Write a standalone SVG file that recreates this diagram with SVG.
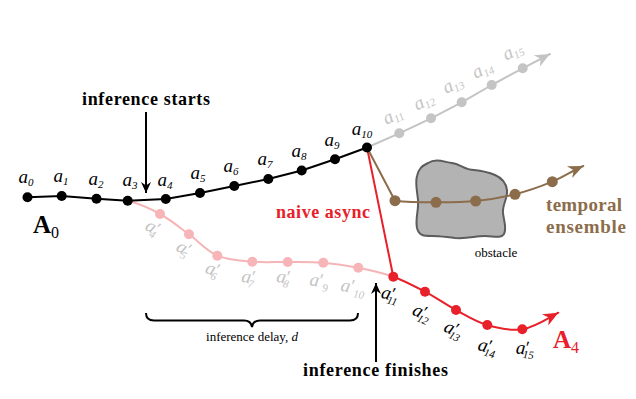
<svg xmlns="http://www.w3.org/2000/svg" width="636" height="399" viewBox="0 0 636 399">
<style>
.m{font-family:"Liberation Serif",serif;font-style:italic;font-size:19px;text-anchor:middle}
.sb{font-size:11px;font-style:italic}
.pr{font-size:18px;font-style:italic}
.b{font-family:"Liberation Serif",serif;font-weight:bold}
.ln{fill:none;stroke-width:2;stroke-linejoin:round;stroke-linecap:round}
</style>
<defs>
<marker id="ag" viewBox="-16 -8 17 16" refX="0" refY="0" markerWidth="17" markerHeight="16" markerUnits="userSpaceOnUse" orient="auto"><path d="M0,0 L-15,-6.5 L-10.5,0 L-15,6.5 Z" fill="#c4c4c4"/></marker>
<marker id="ar" viewBox="-16 -8 17 16" refX="0" refY="0" markerWidth="17" markerHeight="16" markerUnits="userSpaceOnUse" orient="auto"><path d="M0,0 L-15,-6.5 L-10.5,0 L-15,6.5 Z" fill="#e8202a"/></marker>
<marker id="ab" viewBox="-16 -8 17 16" refX="0" refY="0" markerWidth="17" markerHeight="16" markerUnits="userSpaceOnUse" orient="auto"><path d="M0,0 L-15,-6.5 L-10.5,0 L-15,6.5 Z" fill="#8c6d4b"/></marker>
<marker id="ak" viewBox="-12 -6 13 12" refX="0" refY="0" markerWidth="13" markerHeight="12" markerUnits="userSpaceOnUse" orient="auto"><path d="M0,0 L-11,-5 L-7.5,0 L-11,5 Z" fill="#000"/></marker>
</defs>

<g id="obstacle">
<path d="M428,163 C436,158 444,162 452,163 C460,164 465,170 474,170 C484,171 488,172 495,175 C502,178 506,183 507,190 C508,198 502,205 503,213 C504,222 507,228 504,234 C501,239 493,236 485,236 C475,236 468,239 455,238 C445,237 440,236 432,236 C424,236 419,236 417,228 C415,218 419,210 418,200 C417,190 415,183 417,176 C419,168 422,166 428,163 Z" fill="#b3b3b3" stroke="#5c5c5c" stroke-width="2"/>
<text x="496" y="257" font-family="Liberation Serif, serif" font-size="13" text-anchor="middle" fill="#000">obstacle</text>
</g>

<g id="connectors">
<polyline class="ln" stroke="#c4c4c4" points="367,147.5 399.3,133.3 431,118.3 461.7,102.3 491.7,85 522.7,68.3 550,54" marker-end="url(#ag)"/>
<path class="ln" stroke="#f5b5b7" d="M127.7,200.8 C137.7,203.3 149.8,208.4 160,214 C170.2,219.6 179.45,227.35 189,234.3 C198.55,241.25 206.75,251.13 217.3,255.7 C227.850,260.27 240.57,260.65 252.3,261.7 C264.03,262.75 275.87,261.83 287.7,262 C299.53,262.17 311.53,261.75 323.3,262.7 C335.07,263.65 346.63,265.37 358.3,267.7 C369.97,270.03 382.18,272.7 393.3,276.7"/>
<path class="ln" stroke="#e8202a" d="M367,147.5 L393.3,276.7"/>
<path class="ln" stroke="#e8202a" d="M393.3,276.7 C404.4,280.7 414.55,286.15 425,291.7 C435.45,297.25 445.62,304.45 456,310 C466.38,315.55 476.25,321.78 487.3,325 C498.35,328.22 510.47,331.35 522.3,329.3 C534.13,327.25 545,320 558.3,312.7" marker-end="url(#ar)"/>
<path class="ln" stroke="#8c6d4b" d="M367,147.5 L395,200.7 C402,201.5 422.55,202.25 436,202.3 C449.45,202.35 462.53,202.33 475.7,201 C488.87,199.67 502.23,197.52 515,194.3 C527.77,191.08 540.92,186.42 552.3,181.7 C563.68,176.98 572,171 583.3,166" marker-end="url(#ab)"/>
<polyline class="ln" stroke="#000" points="27.5,197.3 61.7,196 96.5,198.8 127.7,200.8 165.8,199 200,193 234.3,186 268.3,179 301.7,170.5 335,159.3 367,147.5"/>
<line x1="146" y1="112" x2="146" y2="193" stroke="#000" stroke-width="2" marker-end="url(#ak)"/>
<line x1="376" y1="362" x2="376" y2="283" stroke="#000" stroke-width="2" marker-end="url(#ak)"/>
<path d="M146,313 Q146,320.5 154,320.5 L244,320.5 Q251,320.5 252,327 Q253,320.5 260,320.5 L350,320.5 Q358,320.5 358,313" fill="none" stroke="#000" stroke-width="2"/>
</g>

<g id="nodes-black" fill="#000">
<circle cx="27.5" cy="197.3" r="5"/><circle cx="61.7" cy="196" r="5"/><circle cx="96.5" cy="198.8" r="5"/><circle cx="127.7" cy="200.8" r="5"/><circle cx="165.8" cy="199" r="5"/><circle cx="200" cy="193" r="5"/><circle cx="234.3" cy="186" r="5"/><circle cx="268.3" cy="179" r="5"/><circle cx="301.7" cy="170.5" r="5"/><circle cx="335" cy="159.3" r="5"/><circle cx="367" cy="147.5" r="5"/>
</g>
<g id="nodes-gray" fill="#c4c4c4">
<circle cx="399.3" cy="133.3" r="5"/><circle cx="431" cy="118.3" r="5"/><circle cx="461.7" cy="102.3" r="5"/><circle cx="491.7" cy="85" r="5"/><circle cx="522.7" cy="68.3" r="5"/>
</g>
<g id="nodes-pink" fill="#f7b5b8">
<circle cx="160" cy="214" r="5"/><circle cx="189" cy="234.3" r="5"/><circle cx="217.3" cy="255.7" r="5"/><circle cx="252.3" cy="261.7" r="5"/><circle cx="287.7" cy="262" r="5"/><circle cx="323.3" cy="262.7" r="5"/><circle cx="358.3" cy="267.7" r="5"/>
</g>
<g id="nodes-red" fill="#e8202a">
<circle cx="393.3" cy="276.7" r="5"/><circle cx="425" cy="291.7" r="5"/><circle cx="456" cy="310" r="5"/><circle cx="487.3" cy="325" r="5"/><circle cx="522.3" cy="329.3" r="5"/>
</g>
<g id="nodes-brown" fill="#8c6d4b">
<circle cx="395" cy="200.7" r="5.5"/><circle cx="436" cy="202.3" r="5.5"/><circle cx="475.7" cy="201" r="5.5"/><circle cx="515" cy="194.3" r="5.5"/><circle cx="552.3" cy="181.7" r="5.5"/>
</g>

<g id="labels-black" fill="#000">
<text class="m" x="26" y="183">a<tspan class="sb" dy="3">0</tspan></text>
<text class="m" x="61" y="182">a<tspan class="sb" dy="3">1</tspan></text>
<text class="m" x="96" y="185">a<tspan class="sb" dy="3">2</tspan></text>
<text class="m" x="130" y="186">a<tspan class="sb" dy="3">3</tspan></text>
<text class="m" x="165" y="186">a<tspan class="sb" dy="3">4</tspan></text>
<text class="m" x="198" y="179">a<tspan class="sb" dy="3">5</tspan></text>
<text class="m" x="231" y="172">a<tspan class="sb" dy="3">6</tspan></text>
<text class="m" x="265" y="165">a<tspan class="sb" dy="3">7</tspan></text>
<text class="m" x="299" y="157">a<tspan class="sb" dy="3">8</tspan></text>
<text class="m" x="332" y="146">a<tspan class="sb" dy="3">9</tspan></text>
<text class="m" x="362" y="135">a<tspan class="sb" dy="3">10</tspan></text>
</g>
<g id="labels-gray" fill="#c4c4c4">
<text class="m" transform="translate(393,116) rotate(-27)" y="5">a<tspan class="sb" dy="3">11</tspan></text>
<text class="m" transform="translate(424,101.7) rotate(-27)" y="5">a<tspan class="sb" dy="3">12</tspan></text>
<text class="m" transform="translate(453,85) rotate(-27)" y="5">a<tspan class="sb" dy="3">13</tspan></text>
<text class="m" transform="translate(482.7,70) rotate(-27)" y="5">a<tspan class="sb" dy="3">14</tspan></text>
<text class="m" transform="translate(513,51.7) rotate(-27)" y="5">a<tspan class="sb" dy="3">15</tspan></text>
</g>
<g id="labels-pink" fill="#c4c4c4">
<text class="m" transform="translate(152,228) rotate(30)" y="5">a<tspan class="pr" dx="-1" dy="-1">′</tspan><tspan class="sb" dx="-5" dy="5">4</tspan></text>
<text class="m" transform="translate(183,249) rotate(30)" y="5">a<tspan class="pr" dx="-1" dy="-1">′</tspan><tspan class="sb" dx="-5" dy="5">5</tspan></text>
<text class="m" transform="translate(212,270) rotate(20)" y="5">a<tspan class="pr" dx="-1" dy="-1">′</tspan><tspan class="sb" dx="-5" dy="5">6</tspan></text>
<text class="m" transform="translate(248,278) rotate(10)" y="5">a<tspan class="pr" dx="-1" dy="-1">′</tspan><tspan class="sb" dx="-5" dy="5">7</tspan></text>
<text class="m" transform="translate(283,278) rotate(10)" y="5">a<tspan class="pr" dx="-1" dy="-1">′</tspan><tspan class="sb" dx="-5" dy="5">8</tspan></text>
<text class="m" transform="translate(319,281.7) rotate(8)" y="5">a<tspan class="pr" dx="-1" dy="-1">′</tspan><tspan class="sb" dx="1" dy="5">9</tspan></text>
<text class="m" transform="translate(353,288) rotate(10)" y="5">a<tspan class="pr" dx="-1" dy="-1">′</tspan><tspan class="sb" dx="1" dy="5">10</tspan></text>
</g>
<g id="labels-red" fill="#000">
<text class="m" transform="translate(390,295) rotate(15)" y="5">a<tspan class="pr" dx="-1" dy="-1">′</tspan><tspan class="sb" dx="-5" dy="5">11</tspan></text>
<text class="m" transform="translate(421.7,313.3) rotate(25)" y="5">a<tspan class="pr" dx="-1" dy="-1">′</tspan><tspan class="sb" dx="-5" dy="5">12</tspan></text>
<text class="m" transform="translate(453.3,330) rotate(25)" y="5">a<tspan class="pr" dx="-1" dy="-1">′</tspan><tspan class="sb" dx="-5" dy="5">13</tspan></text>
<text class="m" transform="translate(487.3,347.3) rotate(15)" y="5">a<tspan class="pr" dx="-1" dy="-1">′</tspan><tspan class="sb" dx="-5" dy="5">14</tspan></text>
<text class="m" transform="translate(525,349.3) rotate(5)" y="5">a<tspan class="pr" dx="-1" dy="-1">′</tspan><tspan class="sb" dx="-5" dy="5">15</tspan></text>
</g>

<g id="titles">
<text class="b" x="33" y="233" font-size="25" fill="#000">A<tspan font-size="16" font-weight="normal" dy="5">0</tspan></text>
<text class="b" x="553" y="348" font-size="25" fill="#e8202a">A<tspan font-size="16" font-weight="normal" dy="5">4</tspan></text>
<text class="b" x="82" y="105" font-size="18" textLength="128" fill="#000">inference starts</text>
<text class="b" x="303" y="376" font-size="18" textLength="145" fill="#000">inference finishes</text>
<text class="b" x="276" y="218" font-size="18" textLength="94" fill="#e8202a">naive async</text>
<text class="b" x="546" y="211" font-size="19" textLength="76" fill="#8c6d4b">temporal</text>
<text class="b" x="546" y="233" font-size="19" textLength="80" fill="#8c6d4b">ensemble</text>
<text x="252" y="341" font-family="Liberation Serif, serif" font-size="13" text-anchor="middle" fill="#000">inference delay, <tspan font-style="italic">d</tspan></text>
</g>
</svg>
